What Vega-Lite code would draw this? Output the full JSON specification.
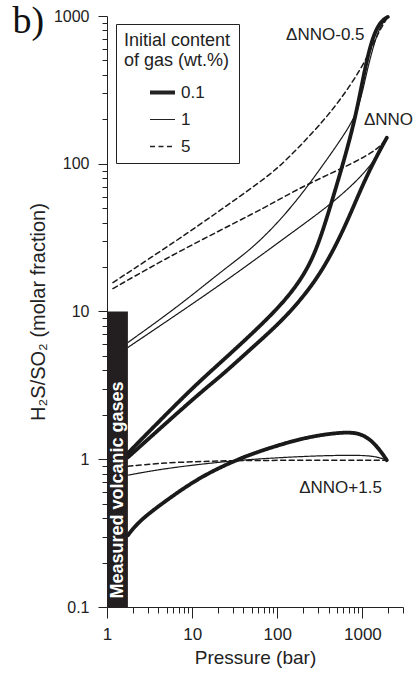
{
  "$schema": "https://vega.github.io/schema/vega-lite/v6.json",
  "width": 296,
  "height": 591,
  "autosize": {"type": "none"},
  "padding": {"left": 107, "top": 16, "right": 14, "bottom": 66},
  "background": "white",
  "config": {"view": {"stroke": null}, "font": "Liberation Sans"},
  "encoding": {
    "x": {"field": "x", "type": "quantitative",
      "scale": {"type": "log", "domain": [1, 3000], "nice": false},
      "axis": {"title": "Pressure (bar)",
        "values": [1,2,3,4,5,6,7,8,9,10,20,30,40,50,60,70,80,90,100,200,300,400,500,600,700,800,900,1000,2000,3000],
        "labelExpr": "abs(log(datum.value)/LN10 - round(log(datum.value)/LN10)) < 0.001 ? format(datum.value,'~g') : ''",
        "labelOverlap": false, "labelFlush": false,
        "tickSize": {"condition": {"test": "abs(log(datum.value)/LN10 - round(log(datum.value)/LN10)) < 0.001", "value": 11}, "value": 6},
        "tickColor": "#222", "domainColor": "#222", "grid": false,
        "labelFont": "Liberation Sans", "labelFontSize": 17, "labelColor": "#222", "labelPadding": 8,
        "titleFont": "Liberation Sans", "titleFontSize": 19, "titleFontWeight": "normal", "titleColor": "#222", "titlePadding": 6}},
    "y": {"field": "y", "type": "quantitative",
      "scale": {"type": "log", "domain": [0.1, 1000], "nice": false},
      "axis": {"title": "H₂S/SO₂ (molar fraction)",
        "values": [0.1,0.2,0.3,0.4,0.5,0.6,0.7,0.8,0.9,1,2,3,4,5,6,7,8,9,10,20,30,40,50,60,70,80,90,100,200,300,400,500,600,700,800,900,1000],
        "labelExpr": "abs(log(datum.value)/LN10 - round(log(datum.value)/LN10)) < 0.001 ? format(datum.value,'~g') : ''",
        "labelOverlap": false, "labelFlush": false,
        "tickSize": {"condition": {"test": "abs(log(datum.value)/LN10 - round(log(datum.value)/LN10)) < 0.001", "value": 9}, "value": 5},
        "tickColor": "#222", "domainColor": "#222", "grid": false,
        "labelFont": "Liberation Sans", "labelFontSize": 16, "labelColor": "#222", "labelPadding": 9,
        "titleFont": "Liberation Sans", "titleFontSize": 20, "titleFontWeight": "normal", "titleColor": "#222", "titlePadding": 5}}
  },
  "layer": [
    {
      "data": {"values": [
        {"curve": "m05_01", "c": "0.1", "x": 1.76, "y": 1.10},
        {"curve": "m05_01", "c": "0.1", "x": 9.35, "y": 2.93},
        {"curve": "m05_01", "c": "0.1", "x": 21, "y": 4.45},
        {"curve": "m05_01", "c": "0.1", "x": 51, "y": 7.1},
        {"curve": "m05_01", "c": "0.1", "x": 127, "y": 11.9},
        {"curve": "m05_01", "c": "0.1", "x": 237, "y": 19.8},
        {"curve": "m05_01", "c": "0.1", "x": 336, "y": 33.7},
        {"curve": "m05_01", "c": "0.1", "x": 440, "y": 56.2},
        {"curve": "m05_01", "c": "0.1", "x": 608, "y": 105},
        {"curve": "m05_01", "c": "0.1", "x": 840, "y": 211},
        {"curve": "m05_01", "c": "0.1", "x": 1070, "y": 445},
        {"curve": "m05_01", "c": "0.1", "x": 1327, "y": 733},
        {"curve": "m05_01", "c": "0.1", "x": 1646, "y": 925},
        {"curve": "m05_01", "c": "0.1", "x": 1988, "y": 985},

        {"curve": "m05_1", "c": "1", "x": 1.76, "y": 6.17},
        {"curve": "m05_1", "c": "1", "x": 7.14, "y": 11.0},
        {"curve": "m05_1", "c": "1", "x": 21, "y": 18.3},
        {"curve": "m05_1", "c": "1", "x": 47, "y": 25.8},
        {"curve": "m05_1", "c": "1", "x": 92.2, "y": 37.5},
        {"curve": "m05_1", "c": "1", "x": 181, "y": 58.9},
        {"curve": "m05_1", "c": "1", "x": 354, "y": 100},
        {"curve": "m05_1", "c": "1", "x": 659, "y": 167},
        {"curve": "m05_1", "c": "1", "x": 910, "y": 235},
        {"curve": "m05_1", "c": "1", "x": 1129, "y": 425},
        {"curve": "m05_1", "c": "1", "x": 1400, "y": 678},
        {"curve": "m05_1", "c": "1", "x": 1646, "y": 869},
        {"curve": "m05_1", "c": "1", "x": 1988, "y": 985},

        {"curve": "m05_5", "c": "5", "x": 1.175, "y": 15.7},
        {"curve": "m05_5", "c": "5", "x": 7.14, "y": 31.1},
        {"curve": "m05_5", "c": "5", "x": 21, "y": 48.1},
        {"curve": "m05_5", "c": "5", "x": 61.5, "y": 74.5},
        {"curve": "m05_5", "c": "5", "x": 106, "y": 95.4},
        {"curve": "m05_5", "c": "5", "x": 181, "y": 130},
        {"curve": "m05_5", "c": "5", "x": 310, "y": 181},
        {"curve": "m05_5", "c": "5", "x": 531, "y": 262},
        {"curve": "m05_5", "c": "5", "x": 986, "y": 445},
        {"curve": "m05_5", "c": "5", "x": 1364, "y": 657},
        {"curve": "m05_5", "c": "5", "x": 1646, "y": 829},
        {"curve": "m05_5", "c": "5", "x": 1988, "y": 985},

        {"curve": "n_01", "c": "0.1", "x": 1.76, "y": 1.03},
        {"curve": "n_01", "c": "0.1", "x": 13.3, "y": 2.93},
        {"curve": "n_01", "c": "0.1", "x": 21, "y": 3.58},
        {"curve": "n_01", "c": "0.1", "x": 51, "y": 5.71},
        {"curve": "n_01", "c": "0.1", "x": 127, "y": 9.11},
        {"curve": "n_01", "c": "0.1", "x": 310, "y": 17.0},
        {"curve": "n_01", "c": "0.1", "x": 575, "y": 33.7},
        {"curve": "n_01", "c": "0.1", "x": 840, "y": 56.2},
        {"curve": "n_01", "c": "0.1", "x": 1099, "y": 80},
        {"curve": "n_01", "c": "0.1", "x": 1478, "y": 113},
        {"curve": "n_01", "c": "0.1", "x": 1935, "y": 150},

        {"curve": "n_1", "c": "1", "x": 1.76, "y": 5.71},
        {"curve": "n_1", "c": "1", "x": 17.4, "y": 13.9},
        {"curve": "n_1", "c": "1", "x": 61.5, "y": 23.5},
        {"curve": "n_1", "c": "1", "x": 138, "y": 33.1},
        {"curve": "n_1", "c": "1", "x": 406, "y": 52},
        {"curve": "n_1", "c": "1", "x": 796, "y": 73.3},
        {"curve": "n_1", "c": "1", "x": 1191, "y": 94.1},
        {"curve": "n_1", "c": "1", "x": 1560, "y": 117},
        {"curve": "n_1", "c": "1", "x": 1935, "y": 150},

        {"curve": "n_5", "c": "5", "x": 1.175, "y": 14.3},
        {"curve": "n_5", "c": "5", "x": 7.14, "y": 25.8},
        {"curve": "n_5", "c": "5", "x": 61.5, "y": 48.1},
        {"curve": "n_5", "c": "5", "x": 138, "y": 62.7},
        {"curve": "n_5", "c": "5", "x": 310, "y": 79.2},
        {"curve": "n_5", "c": "5", "x": 754, "y": 100},
        {"curve": "n_5", "c": "5", "x": 1560, "y": 126},
        {"curve": "n_5", "c": "5", "x": 1935, "y": 150},

        {"curve": "p15_01", "c": "0.1", "x": 1.76, "y": 0.306},
        {"curve": "p15_01", "c": "0.1", "x": 2.43, "y": 0.387},
        {"curve": "p15_01", "c": "0.1", "x": 5.03, "y": 0.529},
        {"curve": "p15_01", "c": "0.1", "x": 12.2, "y": 0.756},
        {"curve": "p15_01", "c": "0.1", "x": 35.9, "y": 1.016},
        {"curve": "p15_01", "c": "0.1", "x": 87.5, "y": 1.21},
        {"curve": "p15_01", "c": "0.1", "x": 218, "y": 1.41},
        {"curve": "p15_01", "c": "0.1", "x": 531, "y": 1.52},
        {"curve": "p15_01", "c": "0.1", "x": 910, "y": 1.52},
        {"curve": "p15_01", "c": "0.1", "x": 1291, "y": 1.34},
        {"curve": "p15_01", "c": "0.1", "x": 1690, "y": 1.11},
        {"curve": "p15_01", "c": "0.1", "x": 1935, "y": 0.985},

        {"curve": "p15_1", "c": "1", "x": 1.76, "y": 0.78},
        {"curve": "p15_1", "c": "1", "x": 4.17, "y": 0.855},
        {"curve": "p15_1", "c": "1", "x": 12.2, "y": 0.925},
        {"curve": "p15_1", "c": "1", "x": 35.9, "y": 0.985},
        {"curve": "p15_1", "c": "1", "x": 80.6, "y": 1.016},
        {"curve": "p15_1", "c": "1", "x": 218, "y": 1.048},
        {"curve": "p15_1", "c": "1", "x": 531, "y": 1.064},
        {"curve": "p15_1", "c": "1", "x": 1099, "y": 1.064},
        {"curve": "p15_1", "c": "1", "x": 1560, "y": 1.032},
        {"curve": "p15_1", "c": "1", "x": 1935, "y": 0.985},

        {"curve": "p15_5", "c": "5", "x": 1.76, "y": 0.898},
        {"curve": "p15_5", "c": "5", "x": 4.17, "y": 0.94},
        {"curve": "p15_5", "c": "5", "x": 12.2, "y": 0.969},
        {"curve": "p15_5", "c": "5", "x": 61.5, "y": 0.985},
        {"curve": "p15_5", "c": "5", "x": 1935, "y": 0.985}
      ]},
      "mark": {"type": "line", "interpolate": "basis", "color": "#1a1a1a", "strokeCap": "round", "strokeJoin": "round"},
      "encoding": {
        "detail": {"field": "curve", "type": "nominal"},
        "strokeWidth": {"field": "c", "type": "ordinal",
          "scale": {"type": "ordinal", "domain": ["0.1", "1", "5"], "range": [3.8, 1.2, 1.5]},
          "legend": {"title": ["Initial content", "of gas (wt.%)"], "orient": "none", "legendX": 9, "legendY": 8,
            "padding": 8, "strokeColor": "#222", "fillColor": "white",
            "titleFont": "Liberation Sans", "titleFontSize": 18, "titleFontWeight": "normal", "titleColor": "#222", "titleLineHeight": 20, "titlePadding": 8,
            "labelFont": "Liberation Sans", "labelFontSize": 17, "labelColor": "#222", "labelOffset": 4,
            "symbolType": "stroke", "symbolSize": 625, "symbolStrokeColor": "#222", "symbolOffset": 24, "rowPadding": 5}},
        "strokeDash": {"field": "c", "type": "ordinal",
          "scale": {"domain": ["0.1", "1", "5"], "range": [[1, 0], [1, 0], [5, 3.5]]},
          "legend": {"title": ["Initial content", "of gas (wt.%)"], "orient": "none", "legendX": 9, "legendY": 8,
            "padding": 8, "strokeColor": "#222", "fillColor": "white",
            "titleFont": "Liberation Sans", "titleFontSize": 18, "titleFontWeight": "normal", "titleColor": "#222", "titleLineHeight": 20, "titlePadding": 8,
            "labelFont": "Liberation Sans", "labelFontSize": 17, "labelColor": "#222", "labelOffset": 4,
            "symbolType": "stroke", "symbolSize": 625, "symbolStrokeColor": "#222", "symbolOffset": 24, "rowPadding": 5}}
      }
    },
    {
      "data": {"values": [{"x": 1, "x2": 1.76, "y": 0.1, "y2": 10}]},
      "mark": {"type": "rect", "fill": "#231f20"},
      "encoding": {
        "x2": {"field": "x2"},
        "y2": {"field": "y2"}
      }
    },
    {
      "data": {"values": [{"x": 1.33, "y": 0.114, "t": "Measured volcanic gases"}]},
      "mark": {"type": "text", "angle": 270, "align": "left", "baseline": "middle", "fill": "white", "font": "Liberation Sans", "fontWeight": "bold", "fontSize": 18},
      "encoding": {"text": {"field": "t"}}
    },
    {
      "data": {"values": [
        {"x": 127, "y": 745, "t": "ΔNNO-0.5"},
        {"x": 1042, "y": 198, "t": "ΔNNO"},
        {"x": 181, "y": 0.642, "t": "ΔNNO+1.5"}
      ]},
      "mark": {"type": "text", "align": "left", "baseline": "middle", "fill": "#222", "font": "Liberation Sans", "fontSize": 17},
      "encoding": {"text": {"field": "t"}}
    },
    {
      "data": {"values": [{"x": 0.0774, "y": 768, "t": "b)"}]},
      "mark": {"type": "text", "align": "left", "baseline": "alphabetic", "fill": "#111", "font": "Liberation Serif", "fontSize": 38},
      "encoding": {"text": {"field": "t"}}
    }
  ]
}
